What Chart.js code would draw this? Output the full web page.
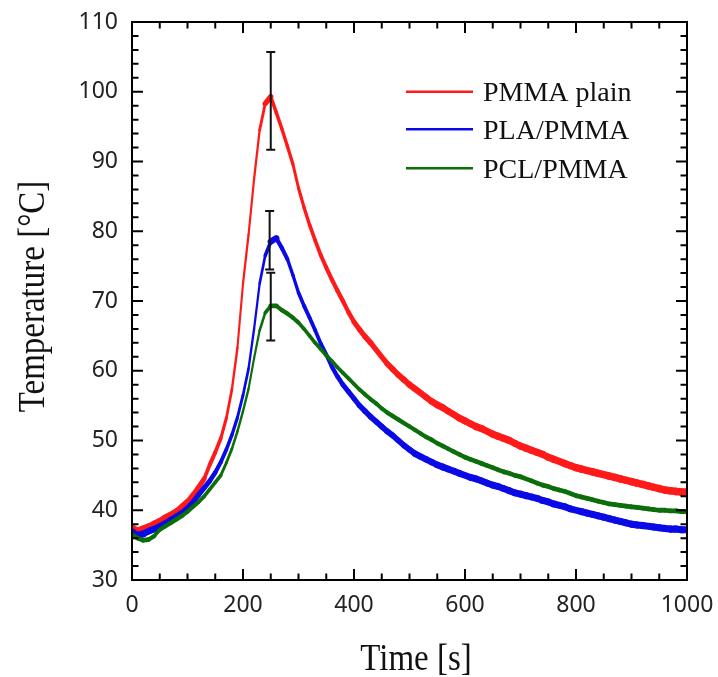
<!DOCTYPE html>
<html>
<head>
<meta charset="utf-8">
<script src="https://cdn.jsdelivr.net/npm/chart.js@4.4.1/dist/chart.umd.min.js"></script>
<style>
html,body{margin:0;padding:0;background:#fff;}
canvas{display:block;}
</style>
</head>
<body>
<canvas id="c" width="718" height="677"></canvas>
<script>
// ---- data ----
const times = [];
for (let t = 0; t <= 1000; t += 10) times.push(t);

const pmmaPlain = [37.5,37.0,37.3,37.6,38.0,38.4,38.9,39.3,39.8,40.5,
  41.2,42.2,43.3,44.5,46.5,48.3,50.3,53.2,57.3,63.3,
  72.5,79.5,87.5,94.5,98.3,99.3,97.0,94.7,92.2,89.6,
  86.2,83.4,80.9,78.7,76.6,74.8,73.1,71.5,70.0,68.4,
  67.0,65.9,64.9,64.0,63.0,62.0,61.0,60.2,59.4,58.7,
  58.0,57.4,56.8,56.2,55.6,55.1,54.7,54.2,53.7,53.2,
  52.8,52.4,52.0,51.7,51.3,50.9,50.6,50.3,50.0,49.6,
  49.2,48.9,48.6,48.3,48.0,47.6,47.3,47.0,46.7,46.4,
  46.1,45.9,45.7,45.5,45.3,45.1,44.9,44.7,44.5,44.3,
  44.1,43.9,43.7,43.5,43.3,43.1,42.9,42.8,42.7,42.6,42.6];

const plaPmma = [37.0,36.4,36.6,37.0,37.3,37.7,38.1,38.6,39.1,39.6,
  40.3,41.2,42.2,43.2,44.2,45.4,46.9,48.7,50.8,53.3,
  56.5,60.3,66.0,72.5,76.5,78.5,79.0,77.6,76.0,73.7,
  71.2,69.3,67.6,65.8,63.9,62.3,60.6,59.2,58.0,57.0,
  56.0,55.0,54.2,53.4,52.7,52.0,51.3,50.7,50.0,49.3,
  48.7,48.1,47.7,47.3,46.9,46.5,46.2,45.9,45.6,45.3,
  45.0,44.7,44.5,44.2,43.9,43.6,43.4,43.1,42.8,42.5,
  42.3,42.1,41.9,41.7,41.4,41.2,40.9,40.7,40.5,40.2,
  40.0,39.8,39.6,39.4,39.2,39.0,38.8,38.6,38.4,38.2,
  38.0,37.9,37.8,37.7,37.6,37.5,37.4,37.3,37.3,37.2,37.2];

const pclPmma = [36.5,36.0,35.7,35.8,36.3,37.2,37.7,38.2,38.7,39.2,
  39.8,40.5,41.2,42.0,43.0,44.0,45.0,46.8,48.8,51.3,
  54.2,57.4,61.8,65.8,68.3,69.3,69.3,68.7,68.2,67.6,
  66.9,66.0,65.0,64.0,63.1,62.2,61.4,60.5,59.7,58.9,
  58.1,57.3,56.6,55.9,55.3,54.6,54.0,53.5,53.0,52.5,
  52.0,51.5,51.0,50.5,50.1,49.6,49.2,48.8,48.4,48.0,
  47.6,47.3,47.0,46.7,46.4,46.1,45.8,45.5,45.3,45.0,
  44.8,44.5,44.2,43.9,43.6,43.4,43.1,42.9,42.7,42.4,
  42.1,41.9,41.7,41.5,41.3,41.1,40.9,40.8,40.7,40.6,
  40.5,40.4,40.3,40.2,40.1,40.0,40.0,39.9,39.9,39.8,39.8];

const seriesLabels = ['PMMA plain', 'PLA/PMMA', 'PCL/PMMA'];
const seriesColors = ['#ff1a1a', '#0a0ae6', '#0b6e0b'];

// error bars at the peak: time, mean, half-range
const errTime = [250, 248, 250];
const errMean = [98.7, 78.7, 69.2];
const errHalf = [7.0, 4.2, 4.85];

const xMajorTicks = [0, 200, 400, 600, 800, 1000];
const yMajorTicks = [30, 40, 50, 60, 70, 80, 90, 100, 110];

const xTitle = 'Time [s]';
const yTitle = 'Temperature [°C]';

// ---- build ----
function toXY(vals) { return vals.map((v, i) => ({ x: times[i], y: v })); }

function noiseWidth(base, amp) {
  return function (ctx) {
    const dx = ctx.p1.x - ctx.p0.x, dy = ctx.p1.y - ctx.p0.y;
    const h = Math.hypot(dx, dy) || 1;
    return base + amp * Math.abs(dx) / h;
  };
}

const seriesValues = [pmmaPlain, plaPmma, pclPmma];
const widths = [[1.6, 6.0], [1.6, 5.5], [1.6, 3.2]];
const drawOrder = [2, 1, 0];

const datasets = seriesValues.map((vals, i) => ({
  label: seriesLabels[i],
  data: toXY(vals),
  borderColor: seriesColors[i],
  borderWidth: 2,
  pointRadius: 0,
  tension: 0,
  fill: false,
  borderCapStyle: 'round',
  borderJoinStyle: 'round',
  order: drawOrder[i],
  segment: { borderWidth: noiseWidth(widths[i][0], widths[i][1]) }
}));

const frameAndTicks = {
  id: 'frameAndTicks',
  afterDatasetsDraw(chart) {
    const { ctx, chartArea: a, scales } = chart;
    const xs = scales.x, ys = scales.y;
    ctx.save();
    // error bars
    ctx.strokeStyle = '#111';
    ctx.lineWidth = 2;
    for (let i = 0; i < errTime.length; i++) {
      const px = xs.getPixelForValue(errTime[i]);
      const pt = ys.getPixelForValue(errMean[i] + errHalf[i]);
      const pb = ys.getPixelForValue(errMean[i] - errHalf[i]);
      ctx.beginPath();
      ctx.moveTo(px, pt); ctx.lineTo(px, pb);
      ctx.moveTo(px - 4.5, pt); ctx.lineTo(px + 4.5, pt);
      ctx.moveTo(px - 4.5, pb); ctx.lineTo(px + 4.5, pb);
      ctx.stroke();
    }
    // frame
    ctx.strokeStyle = '#000';
    ctx.lineWidth = 2;
    ctx.strokeRect(a.left, a.top, a.right - a.left, a.bottom - a.top);
    // ticks, inward, all four sides
    ctx.lineWidth = 2;
    ctx.beginPath();
    xs.ticks.forEach(t => {
      const px = xs.getPixelForValue(t.value);
      const len = xMajorTicks.includes(t.value) ? 11 : 6.5;
      ctx.moveTo(px, a.bottom); ctx.lineTo(px, a.bottom - len);
      ctx.moveTo(px, a.top); ctx.lineTo(px, a.top + len);
    });
    ys.ticks.forEach(t => {
      const py = ys.getPixelForValue(t.value);
      const len = yMajorTicks.includes(t.value) ? 11 : 6.5;
      ctx.moveTo(a.left, py); ctx.lineTo(a.left + len, py);
      ctx.moveTo(a.right, py); ctx.lineTo(a.right - len, py);
    });
    ctx.stroke();
    // legend
    ctx.font = '28px "Liberation Serif", "Times New Roman", serif';
    ctx.textBaseline = 'alphabetic';
    ctx.textAlign = 'left';
    const legY = [91.7, 129.3, 168.3];
    for (let i = 0; i < seriesLabels.length; i++) {
      ctx.strokeStyle = seriesColors[i];
      ctx.lineWidth = 2.5;
      ctx.beginPath();
      ctx.moveTo(406, legY[i]); ctx.lineTo(473, legY[i]);
      ctx.stroke();
      ctx.fillStyle = '#111';
      ctx.fillText(seriesLabels[i], 483, legY[i] + 9.5);
    }
    // axis titles (slightly tall serif glyphs)
    ctx.font = '33px "Liberation Serif", "Times New Roman", serif';
    ctx.fillStyle = '#111';
    ctx.textAlign = 'center';
    ctx.save();
    ctx.translate(416, 670);
    ctx.scale(1, 1.13);
    ctx.fillText(xTitle, 0, 0);
    ctx.restore();
    ctx.save();
    ctx.translate(44, 296.5);
    ctx.rotate(-Math.PI / 2);
    ctx.scale(1, 1.13);
    ctx.fillText(yTitle, 0, 0);
    ctx.restore();
    ctx.restore();
  }
};

Chart.defaults.font.family = '"Noto Sans", sans-serif';

new Chart(document.getElementById('c'), {
  type: 'line',
  data: { datasets },
  options: {
    responsive: false,
    animation: false,
    devicePixelRatio: 1,
    layout: { padding: { top: 22, right: 31, left: 0, bottom: 0 } },
    plugins: { legend: { display: false }, tooltip: { enabled: false } },
    scales: {
      x: {
        type: 'linear', min: 0, max: 1000,
        afterFit(s) { s.height = 97; s.paddingLeft = 0; s.paddingRight = 0; },
        grid: { display: false, drawTicks: false },
        border: { display: false },
        ticks: {
          stepSize: 50, autoSkip: false, maxRotation: 0, padding: 12,
          color: '#222', font: { size: 23 },
          callback: v => (xMajorTicks.includes(v) ? String(v) : '')
        }
      },
      y: {
        type: 'linear', min: 30, max: 110,
        afterFit(s) { s.width = 132; s.paddingTop = 0; s.paddingBottom = 0; },
        grid: { display: false, drawTicks: false },
        border: { display: false },
        ticks: {
          stepSize: 2, autoSkip: false, padding: 14,
          color: '#222', font: { size: 23 },
          callback: v => (yMajorTicks.includes(v) ? String(v) : '')
        }
      }
    }
  },
  plugins: [frameAndTicks]
});
</script>
</body>
</html>
